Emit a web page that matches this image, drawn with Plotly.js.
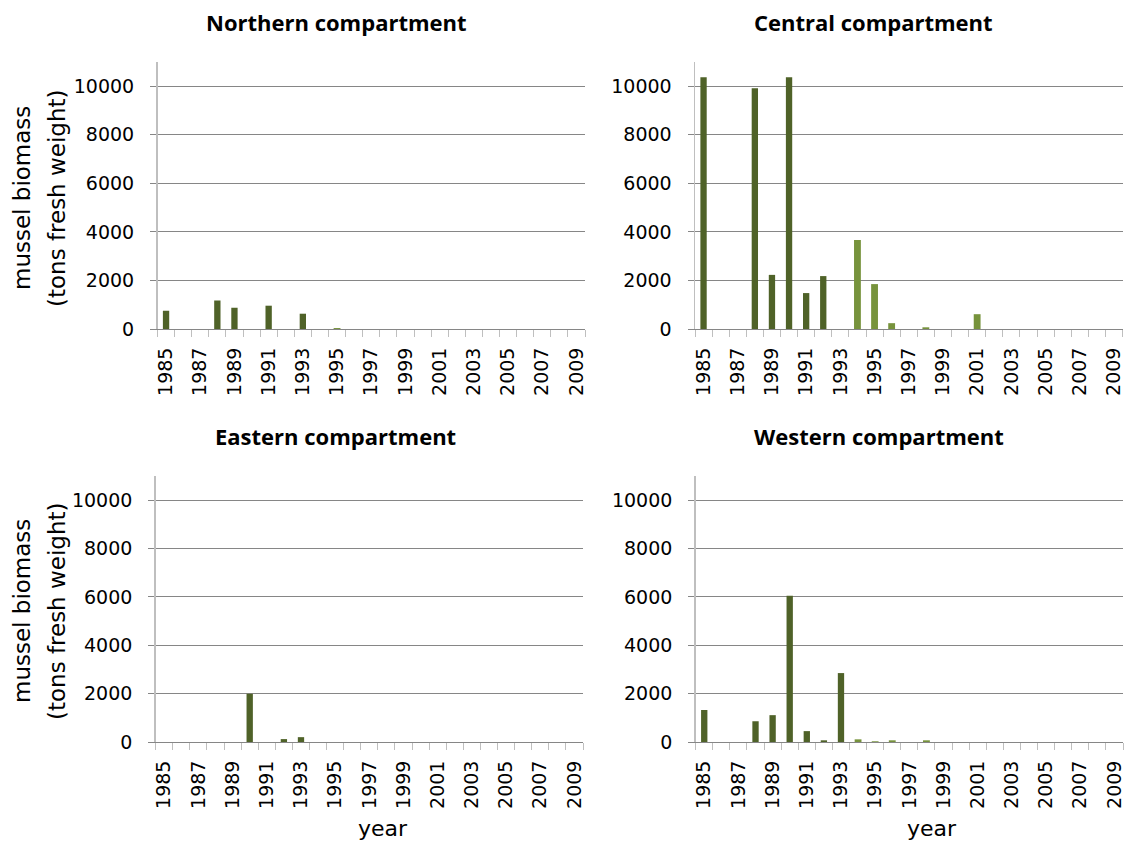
<!DOCTYPE html>
<html>
<head>
<meta charset="utf-8">
<script src="https://cdn.plot.ly/plotly-3.0.1.min.js"></script>
<style>html,body{margin:0;padding:0;background:#fff;}#chart{width:1126px;height:842px;}</style>
</head>
<body>
<div id="chart"></div>
<script>
// ---- data ----
const yearsEarly = [1985, 1986, 1987, 1988, 1989, 1990, 1991, 1992, 1993];
const yearsLate = [1994, 1995, 1996, 1997, 1998, 1999, 2000, 2001, 2002, 2003, 2004, 2005, 2006, 2007, 2008, 2009];
const tickYears = [1985, 1987, 1989, 1991, 1993, 1995, 1997, 1999, 2001, 2003, 2005, 2007, 2009];
const yTicks = [0, 2000, 4000, 6000, 8000, 10000];

const northernEarly = [750, 0, 0, 1170, 880, 0, 960, 0, 630];
const northernLate = [0, 40, 0, 0, 0, 0, 0, 0, 0, 0, 0, 0, 0, 0, 0, 0];
const centralEarly = [10370, 0, 0, 9920, 2230, 10370, 1480, 2180, 0];
const centralLate = [3670, 1850, 240, 0, 70, 0, 0, 610, 0, 0, 0, 0, 0, 0, 0, 0];
const easternEarly = [0, 0, 0, 0, 0, 2000, 0, 120, 200];
const easternLate = [0, 0, 0, 0, 0, 0, 0, 0, 0, 0, 0, 0, 0, 0, 0, 0];
const westernEarly = [1320, 0, 0, 860, 1110, 6050, 450, 70, 2850];
const westernLate = [110, 30, 70, 0, 70, 0, 0, 0, 0, 0, 0, 0, 0, 0, 0, 0];

const panelTitles = ['Northern compartment', 'Central compartment', 'Eastern compartment', 'Western compartment'];
const yTitleLine1 = 'mussel biomass';
const yTitleLine2 = '(tons fresh weight)';
const xTitle = 'year';

// ---- styling ----
const W = 1126, H = 842;
const darkColor = '#4f6228';
const lightColor = '#77933c';
const px = v => v / W;
const py = v => 1 - v / H;

const panels = [
  {early: northernEarly, late: northernLate, x0: 157.5, x1: 585, y0: 62, y1: 329},
  {early: centralEarly, late: centralLate, x0: 695, x1: 1122.5, y0: 62, y1: 329},
  {early: easternEarly, late: easternLate, x0: 155.7, x1: 583, y0: 476, y1: 742},
  {early: westernEarly, late: westernLate, x0: 695.7, x1: 1123, y0: 476, y1: 742}
];

const traces = [];
const layout = {
  width: W, height: H,
  margin: {l: 0, r: 0, t: 0, b: 0},
  paper_bgcolor: '#fff', plot_bgcolor: '#fff',
  showlegend: false,
  barmode: 'overlay',
  font: {family: 'DejaVu Sans', color: '#000'},
  annotations: []
};

panels.forEach((p, i) => {
  const n = i === 0 ? '' : String(i + 1);
  traces.push({type: 'bar', x: yearsEarly, y: p.early, width: 0.37,
    marker: {color: darkColor, line: {width: 0}}, xaxis: 'x' + n, yaxis: 'y' + n, hoverinfo: 'x+y'});
  traces.push({type: 'bar', x: yearsLate, y: p.late, width: 0.4,
    marker: {color: lightColor, line: {width: 0}}, xaxis: 'x' + n, yaxis: 'y' + n, hoverinfo: 'x+y'});
  layout['xaxis' + n] = {
    domain: [px(p.x0), px(p.x1)], anchor: 'y' + n,
    type: 'linear', range: [yearsEarly[0] - 0.5, yearsLate[yearsLate.length - 1] + 0.5],
    tickmode: 'array', tickvals: tickYears, ticktext: tickYears.map(String),
    tickangle: -90, ticks: '', showgrid: false, zeroline: false,
    showline: true, linecolor: '#868686', linewidth: 1,
    tickfont: {family: 'DejaVu Sans', size: 19, color: '#000'},
    ticklabelstandoff: 10,
    minor: {ticks: 'outside', tick0: yearsEarly[0] - 0.5, dtick: 1, ticklen: 7,
            tickcolor: '#bfbfbf', tickwidth: 1, showgrid: false},
    fixedrange: true
  };
  layout['yaxis' + n] = {
    domain: [py(p.y1), py(p.y0)], anchor: 'x' + n,
    range: [0, 11000], tickmode: 'array', tickvals: yTicks, ticktext: yTicks.map(String),
    showgrid: true, gridcolor: '#868686', gridwidth: 1, zeroline: false,
    showline: true, linecolor: '#bfbfbf', linewidth: 1.5,
    ticks: 'outside', ticklen: 6, tickcolor: '#868686', tickwidth: 1,
    tickfont: {family: 'DejaVu Sans', size: 19, color: '#000'},
    ticklabelstandoff: 12,
    fixedrange: true
  };
});

const titlePos = [[336, 22], [873, 22], [335, 436], [879, 436]];
titlePos.forEach((t, i) => {
  layout.annotations.push({text: '<b>' + panelTitles[i] + '</b>', xref: 'paper', yref: 'paper',
    x: px(t[0]), y: py(t[1]), xanchor: 'center', yanchor: 'middle', showarrow: false,
    font: {family: 'Open Sans', size: 22, color: '#000'}});
});
[198, 611].forEach(cy => {
  layout.annotations.push({text: yTitleLine1, xref: 'paper', yref: 'paper', x: px(22), y: py(cy),
    xanchor: 'center', yanchor: 'middle', textangle: -90, showarrow: false,
    font: {family: 'DejaVu Sans', size: 23, color: '#000'}});
  layout.annotations.push({text: yTitleLine2, xref: 'paper', yref: 'paper', x: px(57), y: py(cy),
    xanchor: 'center', yanchor: 'middle', textangle: -90, showarrow: false,
    font: {family: 'DejaVu Sans', size: 23, color: '#000'}});
});
[383, 932].forEach(cx => {
  layout.annotations.push({text: xTitle, xref: 'paper', yref: 'paper', x: px(cx), y: py(828),
    xanchor: 'center', yanchor: 'middle', showarrow: false,
    font: {family: 'DejaVu Sans', size: 22, color: '#000'}});
});

Plotly.newPlot('chart', traces, layout, {displayModeBar: false, staticPlot: true});
</script>
</body>
</html>
